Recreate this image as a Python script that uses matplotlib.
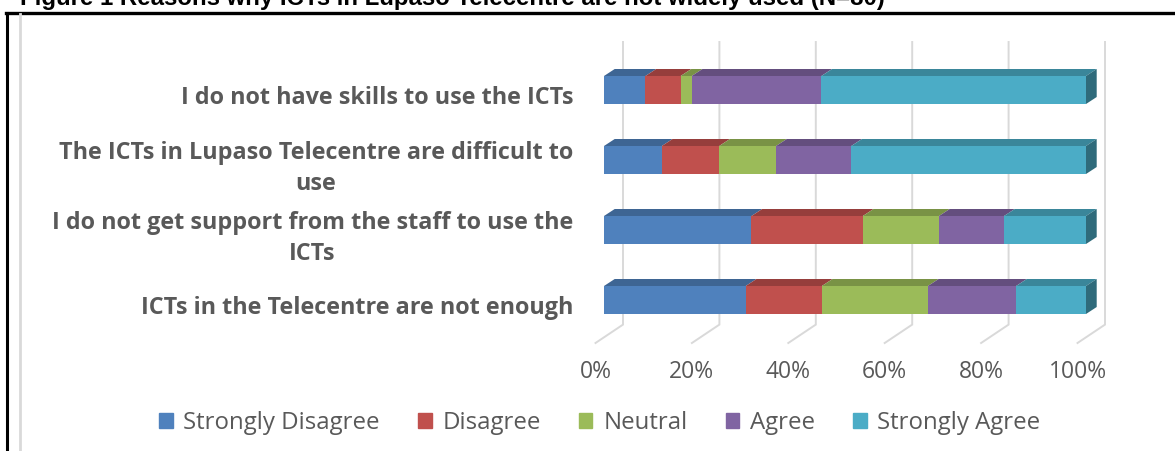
import numpy as np
import matplotlib
matplotlib.use("Agg")
import matplotlib.pyplot as plt
from matplotlib.patches import Patch, Polygon
from matplotlib.lines import Line2D

# data (% of respondents)
categories = ["I do not have skills to use the ICTs",
              "The ICTs in Lupaso Telecentre are difficult to\nuse",
              "I do not get support from the staff to use the\nICTs",
              "ICTs in the Telecentre are not enough"]
responses = ["Strongly Disagree", "Disagree", "Neutral", "Agree", "Strongly Agree"]
strongly_disagree = [8.6, 12.0, 30.6, 29.4]
disagree = [7.3, 11.9, 23.1, 15.8]
neutral = [2.3, 11.8, 15.8, 22.0]
agree = [26.9, 15.6, 13.5, 18.3]
strongly_agree = [54.9, 48.7, 17.0, 14.5]
ticks = [0, 20, 40, 60, 80, 100]

FACE = ["#4F81BD", "#C0504D", "#9BBB59", "#8064A2", "#4BACC6"]
TOP = ["#3e6593", "#963e3c", "#799245", "#644e7e", "#3a869a"]
SIDE = "#2f6b7b"
GRID = "#d9d9d9"
TXT = "#595959"

W, H = 1175, 451
fig = plt.figure(figsize=(W / 100, H / 100), dpi=100)

# axes placed so that 0..100 % of the bar front face spans 604..1086 px
pxu = 4.82          # px per percent
pyu = 70.0          # px per category
x0, y0 = 604, 90    # px of (0 %, first bar centre)
xlim = (-4, 108)
ylim = (4.4, -0.8)
left = x0 + xlim[0] * pxu
right = x0 + xlim[1] * pxu
top = y0 + ylim[1] * pyu
bottom = y0 + ylim[0] * pyu
ax = fig.add_axes([left / W, 1 - bottom / H, (right - left) / W, (bottom - top) / H])
ax.set_xlim(*xlim)
ax.set_ylim(*ylim)
ax.axis("off")

# 3-D geometry (data units)
bh = 0.4                       # bar front height
ddx, ddy = 10.7 / pxu, -7 / pyu  # bar depth
wall_dx = 19 / pxu
floor_dx = -8.5 / pxu
wall_top, wall_bot, floor_y = (42 - y0) / pyu, (324.6 - y0) / pyu, (343 - y0) / pyu

for t in ticks:
    ax.plot([t + wall_dx, t + wall_dx, t + floor_dx], [wall_top, wall_bot, floor_y],
            color=GRID, lw=1.4, zorder=0, solid_joinstyle="miter")
    ax.text(t + floor_dx, (372 - y0) / pyu, f"{t}%", ha="center", va="center",
            fontsize=16.5, color=TXT, family="Open Sans")

series = [strongly_disagree, disagree, neutral, agree, strongly_agree]
y = np.arange(len(categories))
lefts = np.zeros(len(categories))
for vals, fc, tc in zip(series, FACE, TOP):
    vals = np.array(vals)
    ax.barh(y, vals, left=lefts, height=bh, color=fc, zorder=2)
    for yi, l, v in zip(y, lefts, vals):
        yt = yi - bh / 2
        ax.add_patch(Polygon([(l, yt), (l + v, yt), (l + v + ddx, yt + ddy), (l + ddx, yt + ddy)],
                             closed=True, color=tc, zorder=2, lw=0))
    lefts = lefts + vals
for yi, r in zip(y, lefts):
    ax.add_patch(Polygon([(r, yi - bh / 2), (r + ddx, yi - bh / 2 + ddy),
                          (r + ddx, yi + bh / 2 + ddy), (r, yi + bh / 2)],
                         closed=True, color=SIDE, zorder=2, lw=0))

for yi, lab in zip(y, categories):
    ax.text(-6.4, yi + 0.12, lab, ha="right", va="center", multialignment="center",
            fontsize=16.8, fontweight="bold", color=TXT, family="Open Sans",
            linespacing=1.42, clip_on=False)

handles = [Patch(color=c, label=r) for c, r in zip(FACE, responses)]
leg = fig.legend(handles=handles, loc="center", bbox_to_anchor=(600 / W, 1 - 423 / H),
                 ncol=5, frameon=False, handlelength=0.55, handleheight=0.55,
                 handletextpad=0.45, columnspacing=1.6,
                 prop={"family": "Open Sans", "size": 17.3})
for t in leg.get_texts():
    t.set_color(TXT)

# frame and cropped caption
fig.add_artist(Line2D([7 / W, 7 / W], [0, 1 - 12.5 / H], color="black", lw=2.2,
                      transform=fig.transFigure))
fig.add_artist(Line2D([6 / W, 1], [1 - 12.5 / H, 1 - 12.5 / H], color="black", lw=2.4,
                      transform=fig.transFigure))
fig.add_artist(Line2D([20 / W, 20 / W], [0, 1 - 14 / H], color=GRID, lw=2,
                      transform=fig.transFigure))
fig.text(20 / W, 1 - 5 / H, "Figure 1 Reasons why ICTs in Lupaso Telecentre are not widely used (N=80)",
         ha="left", va="baseline", fontsize=17.3, fontweight="bold",
         family="Liberation Sans", color="black")

fig.savefig("out.png", dpi=100)
